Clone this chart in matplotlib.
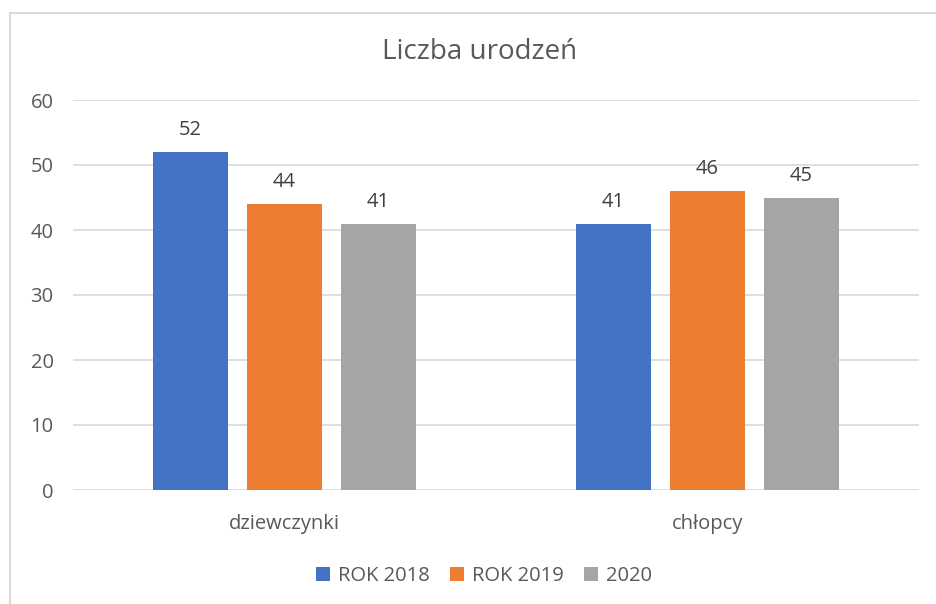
import matplotlib
matplotlib.use("Agg")
import matplotlib.pyplot as plt
import numpy as np
from matplotlib.patches import Rectangle

# data
categories = ["dziewczynki", "chłopcy"]
series_names = ["ROK 2018", "ROK 2019", "2020"]
rok_2018 = [52, 41]
rok_2019 = [44, 46]
rok_2020 = [41, 45]
series_values = [rok_2018, rok_2019, rok_2020]
colors = ["#4472C4", "#ED7D31", "#A5A5A5"]
yticks = [0, 10, 20, 30, 40, 50, 60]

TEXT = "#595959"
GRID = "#D9D9D9"
FS = 14.5
plt.rcParams["font.family"] = ["Open Sans", "DejaVu Sans"]

fig = plt.figure(figsize=(9.37, 6.04), dpi=100)
ax = fig.add_axes([73 / 937, 1 - 490 / 604, (919 - 73) / 937, 390 / 604])

# chart border (only left/top visible in the crop)
fig.patches.append(Rectangle((10 / 937, -0.1), 1.2, 1 - 13 / 604 + 0.1,
                             transform=fig.transFigure, fill=False,
                             edgecolor=GRID, linewidth=1.5))

x = np.arange(len(categories))
width = 0.177
step = 0.222
for i, (name, vals, col) in enumerate(zip(series_names, series_values, colors)):
    pos = x + (i - 1) * step
    bars = ax.bar(pos, vals, width, color=col, label=name, zorder=3)
    for b, v in zip(bars, vals):
        ax.text(b.get_x() + b.get_width() / 2, v + 1.8, str(v),
                ha="center", va="bottom", fontsize=FS, color="#404040")

ax.set_xlim(-0.5, 1.5)
ax.set_ylim(0, 60)
ax.set_yticks(yticks)
ax.set_xticks(x)
ax.set_xticklabels(categories)
ax.tick_params(axis="both", length=0, labelsize=FS, colors=TEXT)
ax.tick_params(axis="y", pad=14)
ax.tick_params(axis="x", pad=17)
ax.grid(axis="y", color=GRID, linewidth=1.2, zorder=0)
for s in ax.spines.values():
    s.set_visible(False)

fig.text(480 / 937, 1 - 52 / 604, "Liczba urodzeń", ha="center", va="center",
         fontsize=20, color=TEXT)

leg = fig.legend(loc="center", bbox_to_anchor=(484 / 937, 1 - 576 / 604), ncol=3,
                 frameon=False, fontsize=FS, handlelength=0.7, handleheight=0.7,
                 handletextpad=0.4, columnspacing=1.0)
for t in leg.get_texts():
    t.set_color(TEXT)

fig.savefig("out.png", dpi=100)
